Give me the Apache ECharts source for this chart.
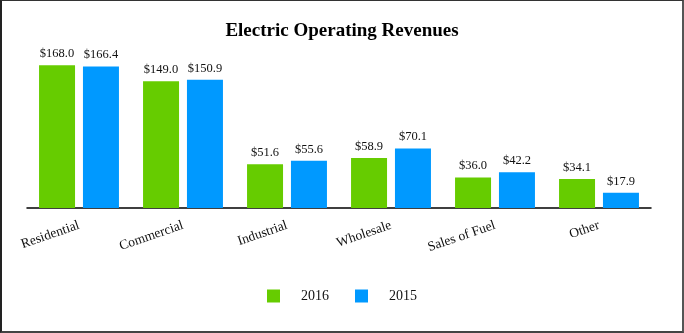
<!DOCTYPE html>
<html><head><meta charset="utf-8">
<script src="https://cdn.jsdelivr.net/npm/echarts@6/dist/echarts.min.js"></script>
<style>
html,body{margin:0;padding:0;background:#fff;}
#c{width:680px;height:330px;border-left:2px solid #222;border-top:1px solid #333;border-right:2px solid #555;border-bottom:2px solid #444;}
</style></head>
<body><div id="c"></div>
<script>
const categories = ["Residential","Commercial","Industrial","Wholesale","Sales of Fuel","Other"];
const values2016 = [168.0,149.0,51.6,58.9,36.0,34.1];
const values2015 = [166.4,150.9,55.6,70.1,42.2,17.9];
const seriesNames = ["2016","2015"];
const font = "Liberation Serif";
const chart = echarts.init(document.getElementById('c'));
const lbl = {show:true,position:'top',distance:5,color:'#111',fontFamily:font,fontSize:12.5,
  formatter:p=>'$'+p.value.toFixed(1)};
chart.setOption({
  animation:false,
  title:{text:'Electric Operating Revenues',left:'center',top:16,
    textStyle:{fontFamily:font,fontWeight:'bold',fontSize:19,color:'#000'}},
  legend:{bottom:23,left:'center',icon:'rect',itemWidth:13,itemHeight:13,itemGap:26,
    textStyle:{fontFamily:font,fontSize:14,color:'#111',padding:[0,0,0,16]},
    data:seriesNames},
  grid:{left:25,right:31,top:37,bottom:123},
  xAxis:{type:'category',data:categories,
    axisLine:{lineStyle:{color:'#000',width:1.5}},
    axisTick:{alignWithLabel:true,length:5,lineStyle:{color:'#000'}},
    axisLabel:{rotate:19,color:'#111',fontFamily:font,fontSize:13.5,margin:17}},
  yAxis:{type:'value',min:0,max:200,show:false,splitLine:{show:false}},
  series:[
    {name:seriesNames[0],type:'bar',data:values2016,barWidth:36,barGap:'22%',
     itemStyle:{color:'#66CC00'},label:lbl},
    {name:seriesNames[1],type:'bar',data:values2015,barWidth:36,
     itemStyle:{color:'#0099FF'},label:lbl}
  ]
});
</script></body></html>
